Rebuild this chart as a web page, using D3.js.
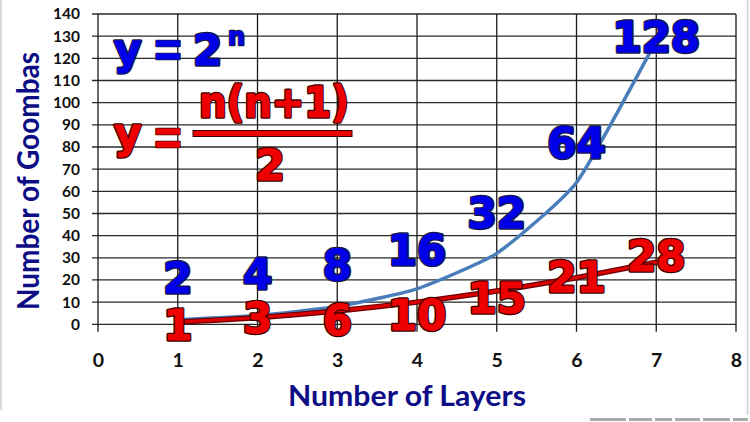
<!DOCTYPE html>
<html>
<head>
<meta charset="utf-8">
<script src="https://cdn.jsdelivr.net/npm/d3@7"></script>
<style>
  html, body { margin: 0; padding: 0; background: #fff; }
  svg { display: block; }
</style>
</head>
<body>
<svg id="chart" width="750" height="422"></svg>
<script>
// ---- data ----
const layers = [1, 2, 3, 4, 5, 6, 7];
const powerValues = [2, 4, 8, 16, 32, 64, 128];        // y = 2^n
const triangularValues = [1, 3, 6, 10, 15, 21, 28];    // y = n(n+1)/2
const xTicks = [0, 1, 2, 3, 4, 5, 6, 7, 8];
const yTicks = [0, 10, 20, 30, 40, 50, 60, 70, 80, 90, 100, 110, 120, 130, 140];
const xTitle = "Number of Layers";
const yTitle = "Number of Goombas";

// label nudges (px, vertical centre offset from the point)
const blueNudge = [-42, -42, -42, -39, -41, -40, -4];
const redNudge = [3, 0, 9, 13, 7, -1, -7];

// ---- layout ----
const svg = d3.select("#chart");
const x = d3.scaleLinear().domain([0, 8]).range([98, 736]);
const y = d3.scaleLinear().domain([0, 140]).range([324.3, 14]);

// slide frame artifacts
svg.append("line").attr("x1", 1).attr("x2", 1).attr("y1", 0).attr("y2", 410)
  .attr("stroke", "#cfcfcf").attr("stroke-width", 1.5);
svg.append("line").attr("x1", 747.5).attr("x2", 747.5).attr("y1", 0).attr("y2", 415)
  .attr("stroke", "#cfcfcf").attr("stroke-width", 1.5);
svg.append("line").attr("x1", 590).attr("x2", 748).attr("y1", 419.5).attr("y2", 419.5)
  .attr("stroke", "#aaaaaa").attr("stroke-width", 3).attr("stroke-dasharray", "36 3 23 3 17 3 25 3 27 3");

// grid
const grid = svg.append("g");
grid.selectAll("line.h").data(yTicks).join("line").attr("class", "h")
  .attr("x1", x(0) - 6).attr("x2", x(8))
  .attr("y1", d => y(d)).attr("y2", d => y(d))
  .attr("stroke", "#2a2a2a").attr("stroke-width", 1.3);
grid.selectAll("line.v").data(xTicks).join("line").attr("class", "v")
  .attr("x1", d => x(d)).attr("x2", d => x(d))
  .attr("y1", y(140)).attr("y2", y(0) + 7.5)
  .attr("stroke", "#1a1a1a").attr("stroke-width", 1.3);

// axes labels
const yAxis = svg.append("g").attr("transform", `translate(${x(0)},0)`)
  .call(d3.axisLeft(y).tickValues(yTicks).tickSize(0).tickPadding(18));
yAxis.select(".domain").remove();
yAxis.selectAll("text").attr("font-family", "Lato, 'Open Sans', sans-serif")
  .attr("font-weight", "bold").attr("font-size", 15.5).attr("fill", "#111");

const xAxis = svg.append("g").attr("transform", `translate(0,${y(0)})`)
  .call(d3.axisBottom(x).tickValues(xTicks).tickSize(0).tickPadding(29));
xAxis.select(".domain").remove();
xAxis.selectAll("text").attr("font-family", "Lato, 'Open Sans', sans-serif")
  .attr("font-weight", "bold").attr("font-size", 19.5).attr("fill", "#111");

// axis titles
svg.append("text").text(xTitle)
  .attr("x", 407).attr("y", 406).attr("text-anchor", "middle")
  .attr("font-family", "Lato, 'Open Sans', sans-serif").attr("font-weight", "bold")
  .attr("font-size", 29).attr("fill", "#0d0d86")
  .attr("textLength", 238).attr("lengthAdjust", "spacingAndGlyphs");
svg.append("text").text(yTitle)
  .attr("transform", "translate(39,181) rotate(-90)").attr("text-anchor", "middle")
  .attr("font-family", "Lato, 'Open Sans', sans-serif").attr("font-weight", "bold")
  .attr("font-size", 30).attr("fill", "#0d0d86")
  .attr("textLength", 258).attr("lengthAdjust", "spacingAndGlyphs");

// lines
const pts = vals => layers.map((l, i) => [x(l), y(vals[i])]);
const lineGen = d3.line().curve(d3.curveCardinal.tension(0.5));

svg.append("path").attr("d", lineGen(pts(powerValues)))
  .attr("fill", "none").attr("stroke", "#4a7ebb").attr("stroke-width", 3.5)
  .attr("stroke-linecap", "round");
svg.append("path").attr("d", lineGen(pts(triangularValues)))
  .attr("fill", "none").attr("stroke", "#6a0000").attr("stroke-width", 5.5)
  .attr("stroke-linecap", "round");
svg.append("path").attr("d", lineGen(pts(triangularValues)))
  .attr("fill", "none").attr("stroke", "#d80000").attr("stroke-width", 3.2)
  .attr("stroke-linecap", "round");

// outlined heavy text helper (dark outline + slightly thickened fill)
const bigFont = "'DejaVu Sans', Verdana, sans-serif";
function outlined(g, txt, fill, stroke, size, attrs, outer = 3.4, inner = 0.8, fam = bigFont) {
  const grp = g.append("g");
  const mk = (st, sw) => {
    const t = grp.append("text").text(txt)
      .attr("font-family", fam).attr("font-weight", "bold")
      .attr("font-size", size).attr("fill", fill)
      .attr("stroke", st).attr("stroke-width", sw)
      .attr("stroke-linejoin", "round");
    Object.entries(attrs).forEach(([k, v]) => t.attr(k, v));
    return t;
  };
  mk(stroke, outer);
  if (inner > 0) mk(fill, inner);
  return grp;
}

const BLUE = "#0000e8", BLUE_S = "#1a1a40";
const RED = "#ee0000", RED_S = "#3a0000";
const eqFont = "'Liberation Sans', Arial, sans-serif";

// data labels
const labels = svg.append("g");
layers.forEach((l, i) => {
  outlined(labels, String(powerValues[i]), BLUE, BLUE_S, 42, {
    x: x(l), y: y(powerValues[i]) + blueNudge[i], dy: "0.365em", "text-anchor": "middle"
  });
});
layers.forEach((l, i) => {
  outlined(labels, String(triangularValues[i]), RED, RED_S, 42, {
    x: x(l), y: y(triangularValues[i]) + redNudge[i], dy: "0.365em", "text-anchor": "middle"
  });
});

// formulas
const f = svg.append("g");
outlined(f, "y", BLUE, BLUE_S, 42, { x: 114, y: 64 });
outlined(f, "=", BLUE, BLUE_S, 46, { x: 168, y: 66, "text-anchor": "middle" }, 2.4, 0.8, eqFont);
outlined(f, "2", BLUE, BLUE_S, 42, { x: 193, y: 65 });
outlined(f, "n", BLUE, BLUE_S, 24, { x: 228, y: 45 }, 2.4, 0.4);

outlined(f, "y", RED, RED_S, 42, { x: 114, y: 148 });
outlined(f, "=", RED, RED_S, 46, { x: 168, y: 154, "text-anchor": "middle" }, 2.4, 0.8, eqFont);
f.append("rect").attr("x", 193).attr("y", 130.5).attr("width", 159).attr("height", 6)
  .attr("fill", RED).attr("stroke", RED_S).attr("stroke-width", 1);
outlined(f, "n(n+1)", RED, RED_S, 43, { x: 199, y: 117, textLength: 150, lengthAdjust: "spacingAndGlyphs" });
outlined(f, "2", RED, RED_S, 43, { x: 270, y: 180, "text-anchor": "middle" });
</script>
</body>
</html>
